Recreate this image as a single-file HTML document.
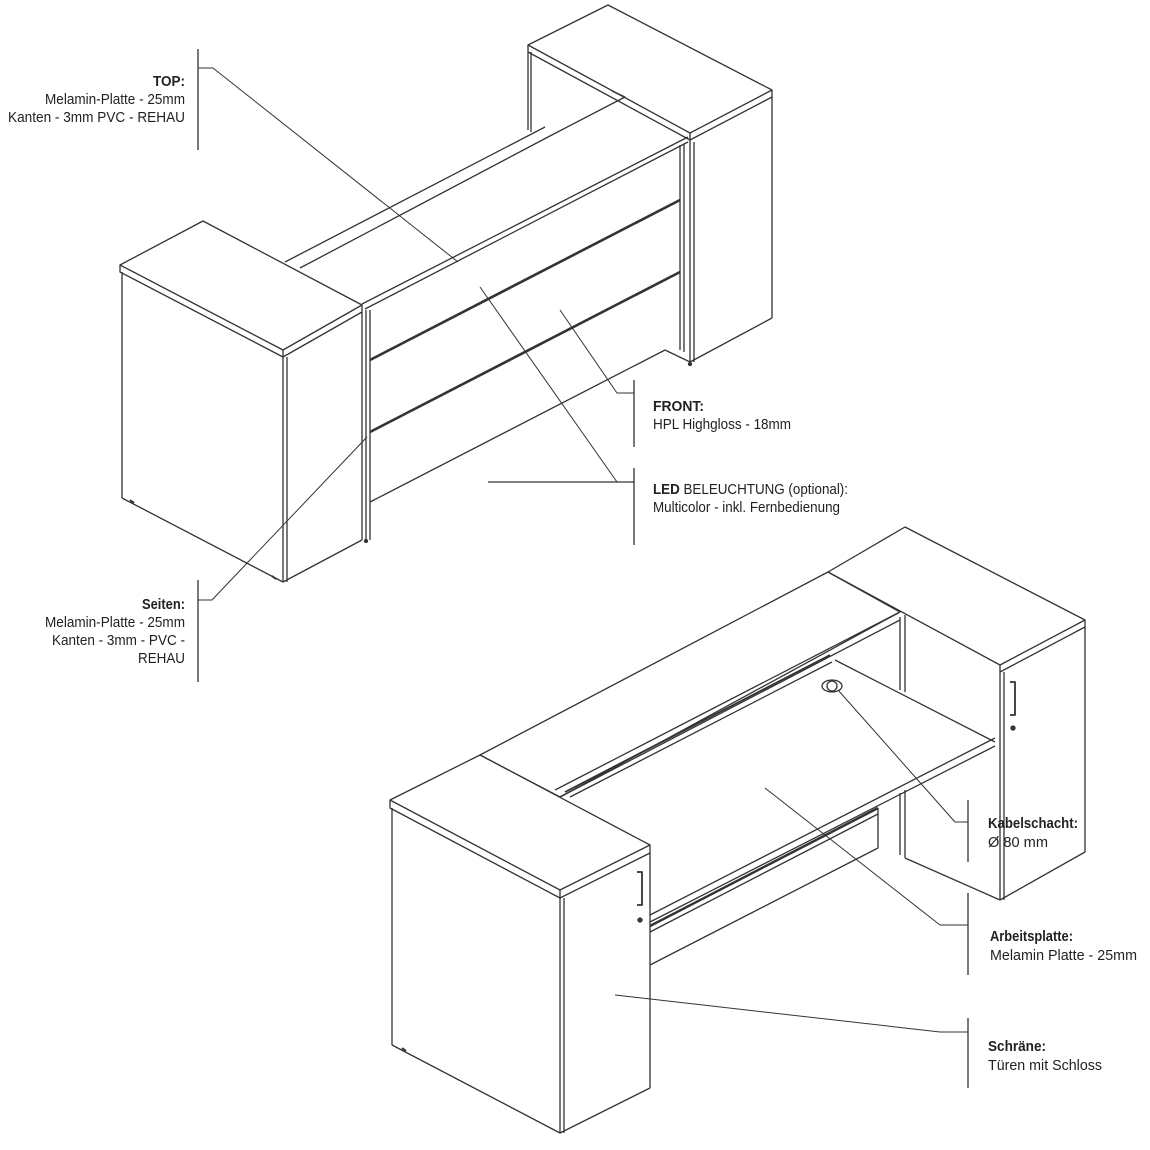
<!DOCTYPE html>
<html><head><meta charset="utf-8"><style>
html,body{margin:0;padding:0;background:#fff}
svg{display:block}
text{font-family:"Liberation Sans",sans-serif;font-size:14.5px;fill:#222}
.b{font-weight:bold}
</style></head><body>
<svg width="1150" height="1150" viewBox="0 0 1150 1150" xmlns="http://www.w3.org/2000/svg">
<g fill="none" stroke="#333" stroke-width="1.3" stroke-linejoin="round">
<!-- ===== TOP DRAWING ===== -->
<polygon points="528,45 608,5 772,90 690,133" fill="#fff"/>
<polyline points="528,45 528,52 690,140 772,97 772,90"/>
<line x1="690" y1="133" x2="690" y2="140"/>
<line x1="531" y1="52" x2="531" y2="132"/>
<line x1="528" y1="52" x2="528" y2="130"/>
<line x1="772" y1="97" x2="772" y2="318"/>
<line x1="690" y1="140" x2="690" y2="362"/>
<line x1="694" y1="142" x2="694" y2="362"/>
<line x1="690" y1="362" x2="772" y2="318"/>
<circle cx="690" cy="364" r="1.5" fill="#333"/>
<line x1="285" y1="262" x2="545" y2="127"/>
<line x1="300" y1="268" x2="548" y2="137"/>
<line x1="548" y1="137" x2="625" y2="97"/>
<line x1="625" y1="97" x2="612" y2="91"/>
<line x1="362" y1="304" x2="688" y2="137"/>
<line x1="365" y1="309" x2="688" y2="142"/>
<line x1="370" y1="310" x2="370" y2="540"/>
<line x1="366" y1="310" x2="366" y2="540"/>
<line x1="680" y1="145" x2="680" y2="350"/>
<line x1="684" y1="144" x2="684" y2="352"/>
<line x1="370" y1="360" x2="680" y2="200" stroke-width="2.6"/>
<line x1="370" y1="432" x2="680" y2="272" stroke-width="2.6"/>
<line x1="370" y1="502" x2="665" y2="350"/>
<line x1="665" y1="350" x2="690" y2="362"/>
<circle cx="366" cy="541" r="1.5" fill="#333"/>
<polygon points="120,265 203,221 362,305 283,350" fill="#fff"/>
<polyline points="120,265 120,272 283,357 362,312 362,305"/>
<line x1="283" y1="350" x2="283" y2="357"/>
<line x1="122" y1="272" x2="122" y2="498"/>
<line x1="283" y1="357" x2="283" y2="582"/>
<line x1="287" y1="357" x2="287" y2="582"/>
<line x1="362" y1="312" x2="362" y2="540"/>
<polyline points="122,498 283,582 362,540"/>
<line x1="130" y1="500" x2="134" y2="503" stroke-width="2"/>
<line x1="272" y1="576" x2="276" y2="579" stroke-width="2"/>
<line x1="198" y1="49" x2="198" y2="150"/>
<polyline points="198,68 213,68 458,262" stroke-width="1"/>
<line x1="198" y1="580" x2="198" y2="682"/>
<polyline points="198,600 212,600 367,437" stroke-width="1"/>
<line x1="634" y1="380" x2="634" y2="447"/>
<polyline points="634,393 617,393 560,310" stroke-width="1"/>
<line x1="634" y1="468" x2="634" y2="545"/>
<line x1="488" y1="482" x2="634" y2="482"/>
<polyline points="617,482 480,287" stroke-width="1"/>

<!-- ===== BOTTOM DRAWING ===== -->
<polygon points="480,755 828,572 900,612 560,797" fill="#fff"/>
<polygon points="828,572 905,527 1085,620 1000,665" fill="#fff"/>
<polyline points="1000,665 1000,672 1085,627 1085,620"/>
<line x1="555" y1="790" x2="898" y2="613"/>
<line x1="560" y1="797" x2="900" y2="620"/>
<line x1="565" y1="792" x2="830" y2="655" stroke-width="1.8"/>
<line x1="570" y1="797" x2="832" y2="662"/>
<line x1="900" y1="617" x2="900" y2="690"/>
<line x1="905" y1="615" x2="905" y2="692"/>
<line x1="835" y1="660" x2="995" y2="742"/>
<line x1="995" y1="738" x2="650" y2="915"/>
<line x1="995" y1="746" x2="650" y2="922"/>
<line x1="900" y1="793" x2="900" y2="855"/>
<line x1="905" y1="790" x2="905" y2="858"/>
<line x1="878" y1="808" x2="878" y2="848"/>
<line x1="650" y1="926" x2="878" y2="808" stroke-width="2.4"/>
<line x1="650" y1="932" x2="878" y2="814"/>
<line x1="650" y1="965" x2="878" y2="848"/>
<line x1="905" y1="858" x2="1000" y2="900"/>
<ellipse cx="832" cy="686" rx="10" ry="6"/>
<circle cx="832" cy="686" r="5"/>
<line x1="1000" y1="672" x2="1000" y2="900"/>
<line x1="1004" y1="672" x2="1004" y2="900"/>
<line x1="1085" y1="627" x2="1085" y2="852"/>
<line x1="1000" y1="900" x2="1085" y2="852"/>
<path d="M1010,682 h5 v33 h-5" stroke-width="1.8"/>
<circle cx="1013" cy="728" r="2" fill="#333"/>
<polygon points="390,800 480,755 650,845 560,890" fill="#fff"/>
<polyline points="390,800 390,808 560,898 650,853 650,845"/>
<line x1="560" y1="890" x2="560" y2="898"/>
<line x1="392" y1="808" x2="392" y2="1045"/>
<line x1="560" y1="898" x2="560" y2="1133"/>
<line x1="564" y1="898" x2="564" y2="1133"/>
<line x1="650" y1="853" x2="650" y2="1088"/>
<polyline points="392,1045 560,1133 650,1088"/>
<path d="M637,872 h5 v33 h-5" stroke-width="1.8"/>
<circle cx="640" cy="920" r="2" fill="#333"/>
<line x1="402" y1="1048" x2="406" y2="1051" stroke-width="2"/>
<line x1="968" y1="800" x2="968" y2="862"/>
<polyline points="968,822 955,822 838,690" stroke-width="1"/>
<line x1="968" y1="893" x2="968" y2="975"/>
<polyline points="968,925 940,925 765,788" stroke-width="1"/>
<line x1="968" y1="1018" x2="968" y2="1088"/>
<polyline points="968,1032 940,1032 615,995" stroke-width="1"/>
</g>
<g text-anchor="end">
<text x="185" y="86" class="b" textLength="32" lengthAdjust="spacingAndGlyphs">TOP:</text>
<text x="185" y="104" textLength="140" lengthAdjust="spacingAndGlyphs">Melamin-Platte - 25mm</text>
<text x="185" y="122" textLength="177" lengthAdjust="spacingAndGlyphs">Kanten - 3mm PVC - REHAU</text>
<text x="185" y="609" class="b" textLength="43" lengthAdjust="spacingAndGlyphs">Seiten:</text>
<text x="185" y="627" textLength="140" lengthAdjust="spacingAndGlyphs">Melamin-Platte - 25mm</text>
<text x="185" y="645" textLength="133" lengthAdjust="spacingAndGlyphs">Kanten - 3mm - PVC -</text>
<text x="185" y="663" textLength="47" lengthAdjust="spacingAndGlyphs">REHAU</text>
</g>
<text x="653" y="411" class="b" textLength="51" lengthAdjust="spacingAndGlyphs">FRONT:</text>
<text x="653" y="429" textLength="138" lengthAdjust="spacingAndGlyphs">HPL Highgloss - 18mm</text>
<text x="653" y="494" textLength="195" lengthAdjust="spacingAndGlyphs"><tspan class="b">LED</tspan> BELEUCHTUNG (optional):</text>
<text x="653" y="512" textLength="187" lengthAdjust="spacingAndGlyphs">Multicolor - inkl. Fernbedienung</text>
<text x="988" y="828" class="b" textLength="90" lengthAdjust="spacingAndGlyphs">Kabelschacht:</text>
<text x="988" y="847" textLength="60" lengthAdjust="spacingAndGlyphs">Ø 80 mm</text>
<text x="990" y="941" class="b" textLength="83" lengthAdjust="spacingAndGlyphs">Arbeitsplatte:</text>
<text x="990" y="960" textLength="147" lengthAdjust="spacingAndGlyphs">Melamin Platte - 25mm</text>
<text x="988" y="1051" class="b" textLength="58" lengthAdjust="spacingAndGlyphs">Schräne:</text>
<text x="988" y="1070" textLength="114" lengthAdjust="spacingAndGlyphs">Türen mit Schloss</text>
</svg>
</body></html>
